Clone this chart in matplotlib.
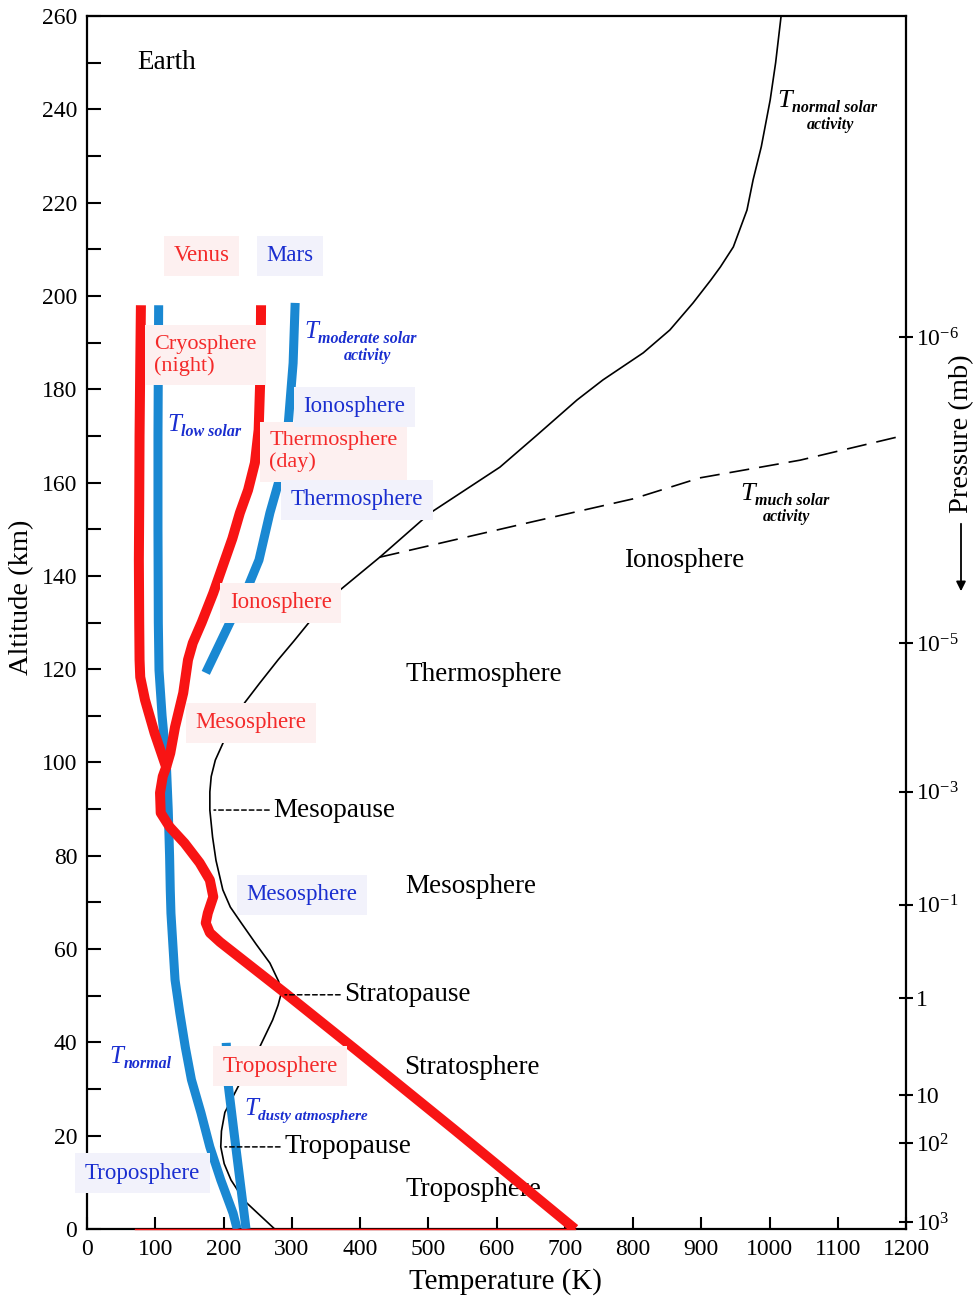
import numpy as np
import matplotlib
matplotlib.use("Agg")
import matplotlib.pyplot as plt
from matplotlib.ticker import MultipleLocator

plt.rcParams["font.family"] = ["Liberation Serif", "DejaVu Serif"]
plt.rcParams["mathtext.fontset"] = "custom"
plt.rcParams["mathtext.rm"] = "Liberation Serif"
plt.rcParams["mathtext.it"] = "Liberation Serif:italic"

# ---- Earth: temperature profile (normal solar activity) ----
earth_alt = [0, 3.4, 6, 10.5, 14, 17.6, 21, 25, 30.4, 35, 39, 44.8, 48, 50.2, 53,
             57, 61, 65.6, 69, 72.7, 79, 84, 89.8, 93.7, 97, 100.5, 104.4, 108.5,
             112.8, 117, 122, 126, 130.5, 137, 144, 153.5, 163.3, 170, 177.7,
             182, 187.8, 192.7, 198.5, 203.4, 206.2, 210.5, 218.4, 224.9, 232,
             242, 250, 260]
earth_T = [275, 250, 231, 211, 201, 196, 197, 202, 221, 238, 253, 272, 280, 284, 281,
           268, 248, 226, 210, 199, 189, 184, 180, 180, 182, 188, 200, 215,
           231, 253, 280, 303, 328, 371, 429, 503, 605, 658, 718,
           756, 815, 854, 888, 914, 928, 947, 967, 976, 988,
           1001, 1009, 1017]

# Earth: high solar activity branch
much_alt = [144, 151.5, 156.5, 161, 164.8, 170.2]
much_T = [429, 650, 800, 898, 1045, 1200]

# ---- Venus ----
venus_night_alt = [198, 185, 170, 155, 143.4, 130, 122, 118.3, 113.4, 106.3, 103.3,
                   99, 97, 93.5, 89.2, 86.2, 82.7, 78.5, 74.8, 71.2, 67.7, 65.6,
                   63.5, 61.5, 50.6, 38.4, 21.2, 0]
venus_night_T = [79, 78, 77, 76.5, 76, 76.5, 77, 78, 85, 99, 106,
                 116, 111, 107, 108, 121, 143, 165, 180, 185, 177, 174,
                 180, 195, 290, 394, 539, 715]
venus_day_alt = [198, 185, 171.3, 164.2, 158.4, 153.5, 148, 143.4, 136.3, 130,
                 125.6, 122, 114.9, 107.6, 102, 99]
venus_day_T = [255, 254.5, 251.5, 246, 236, 224, 213, 202, 185, 168,
               155, 148, 141, 129, 122, 116]
venus_base_alt = [0, 0]
venus_base_T = [70, 715]

# ---- Mars ----
mars_low_alt = [198, 185, 170, 150, 130, 119.8, 110, 100.5, 90, 80, 72.7, 67.7,
                60.5, 53.4, 46.3, 39, 32, 24.9, 17.6, 10.5, 3.4, 0]
mars_low_T = [105, 104.5, 104, 104, 104.5, 105.5, 110, 116, 119, 121, 122, 123,
              126, 129, 136, 144, 153, 167, 180, 196, 214, 220]
mars_mod_alt = [198.5, 185.6, 172.8, 161.2, 153.5, 143.4, 137, 130.5, 125, 119.2]
mars_mod_T = [305, 302, 295, 283, 268, 252, 234, 211, 193, 174]
mars_dusty_alt = [39.9, 32, 17.6, 0]
mars_dusty_T = [204, 206, 218, 233]

# ---- axes ticks ----
x_ticks = [0, 100, 200, 300, 400, 500, 600, 700, 800, 900, 1000, 1100, 1200]
y_ticks = [0, 20, 40, 60, 80, 100, 120, 140, 160, 180, 200, 220, 240, 260]
p_alt = [191.2, 125.6, 93.7, 69.5, 49.5, 28.7, 18.4, 1.5]
p_labels = [r"$10^{-6}$", r"$10^{-5}$", r"$10^{-3}$", r"$10^{-1}$", "1", "10",
            r"$10^{2}$", r"$10^{3}$"]

RED = "#f81414"
RED_TXT = "#f42a2a"
BLUE = "#1a88d2"
BLUE_TXT = "#1a2ed0"
RED_BG = "#fdf0f0"
BLUE_BG = "#f2f2fb"

W, H = 978, 1300
fig = plt.figure(figsize=(W / 100, H / 100), dpi=100)
ax = fig.add_axes([87 / W, 1 - 1229 / H, (906 - 87) / W, (1229 - 16) / H])
ax.set_xlim(0, 1200)
ax.set_ylim(0, 260)

# Earth curves
ax.plot(earth_T, earth_alt, color="black", lw=1.2, zorder=2,
        solid_joinstyle="round")
ax.plot(much_T, much_alt, color="black", lw=1.2, ls=(0, (12, 6)), zorder=2)

lkw = dict(solid_capstyle="butt", solid_joinstyle="round")

# Mars
ax.plot(mars_low_T, mars_low_alt, color=BLUE, lw=6.5, zorder=3, **lkw)
ax.plot(mars_mod_T, mars_mod_alt, color=BLUE, lw=6.5, zorder=3, **lkw)
ax.plot(mars_dusty_T, mars_dusty_alt, color=BLUE, lw=6.5, zorder=3, **lkw)

# Venus
ax.plot(venus_night_T, venus_night_alt, color=RED, lw=7.2, zorder=4, **lkw)
ax.plot(venus_day_T, venus_day_alt, color=RED, lw=7.2, zorder=4, **lkw)
ax.plot(venus_base_T, venus_base_alt, color=RED, lw=1.0, zorder=6, clip_on=False)

# Spines and ticks
for s in ax.spines.values():
    s.set_linewidth(1.6)
ax.set_xticks(x_ticks)
ax.set_yticks(y_ticks)
ax.yaxis.set_minor_locator(MultipleLocator(10))
ax.tick_params(axis="both", which="both", direction="in", width=1.5, labelsize=17)
ax.tick_params(axis="y", which="both", length=10, pad=7)
ax.tick_params(axis="x", which="both", length=9, pad=7)

ax2 = ax.twinx()
ax2.set_ylim(0, 260)
ax2.set_yticks(p_alt)
ax2.set_yticklabels(p_labels)
ax2.tick_params(axis="y", direction="inout", length=10, width=1.5, labelsize=17, pad=2)
for s in ax2.spines.values():
    s.set_visible(False)

# Axis titles
fig.text(505 / W, 1 - 1282 / H, "Temperature (K)", ha="center", va="center", fontsize=20.8)
fig.text(22 / W, 1 - 597 / H, "Altitude (km)", ha="center", va="center",
         rotation=90, fontsize=20.5)
fig.text(962 / W, 1 - 434 / H, "Pressure (mb)", ha="center", va="center",
         rotation=90, fontsize=20.5)
fig.add_artist(matplotlib.patches.FancyArrowPatch(
    (961 / W, 1 - 521 / H), (961 / W, 1 - 594 / H), transform=fig.transFigure,
    arrowstyle="-|>", mutation_scale=14, lw=1.3, color="black"))


def box(fc):
    return dict(boxstyle="square,pad=0.42", fc=fc, ec="none")


# Black region labels
ax.text(117, 250, "Earth", fontsize=19.5, ha="center", va="center")
for t, a, s in [(582, 118.8, "Thermosphere"), (875, 143.2, "Ionosphere"),
                (563, 73.5, "Mesosphere"), (564, 34.7, "Stratosphere")]:
    ax.text(t, a, s, fontsize=19.5, ha="center", va="center", zorder=5)
ax.text(566, 8.4, "Troposphere", fontsize=19.5, ha="center", va="center", zorder=1)

# Pauses with dashed leaders to the Earth profile
ea = np.array(earth_alt)
et = np.array(earth_T)
for lo, hi, fn, name in [(85, 95, np.argmin, "Mesopause"),
                         (40, 60, np.argmax, "Stratopause"),
                         (5, 30, np.argmin, "Tropopause")]:
    m = (ea >= lo) & (ea <= hi)
    i = fn(et[m])
    pt, pa = et[m][i], ea[m][i]
    ax.annotate(name, xy=(pt, pa), xytext=(pt + 93, pa), fontsize=19.5,
                ha="left", va="center", zorder=5,
                arrowprops=dict(arrowstyle="-", ls=(0, (3, 2)), lw=1.1,
                                color="black", shrinkA=1, shrinkB=3))

# Venus labels
for t, a, s in [(168, 208.6, "Venus"), (284, 134.2, "Ionosphere"),
                (240, 108.5, "Mesosphere"), (283, 34.9, "Troposphere")]:
    ax.text(t, a, s, fontsize=16.5, color=RED_TXT, ha="center", va="center",
            zorder=5, bbox=box(RED_BG))
ax.text(98, 187.3, "Cryosphere\n(night)", fontsize=16, color=RED_TXT, ha="left",
        va="center", linespacing=1.15, zorder=5, bbox=box(RED_BG))
ax.text(267, 166.6, "Thermosphere\n(day)", fontsize=16, color=RED_TXT, ha="left",
        va="center", linespacing=1.15, zorder=5, bbox=box(RED_BG))

# Mars labels
for t, a, s in [(297, 208.6, "Mars"), (392, 176.2, "Ionosphere"),
                (396, 156.3, "Thermosphere"), (315, 71.6, "Mesosphere"),
                (81, 12, "Troposphere")]:
    ax.text(t, a, s, fontsize=16.5, color=BLUE_TXT, ha="center", va="center",
            zorder=5, bbox=box(BLUE_BG))


def t_label(t, a, sub, line2=None, color="black", tsize=19, ssize=11.5, dx2=0):
    ax.text(t, a, "T", fontsize=tsize, style="italic", color=color,
            ha="left", va="baseline", zorder=5)
    ax.annotate(sub, xy=(t, a), xytext=(tsize * 0.55, -3.5), textcoords="offset points",
                fontsize=ssize, style="italic", weight="bold", color=color,
                ha="left", va="baseline", zorder=5)
    if line2:
        ax.annotate(line2, xy=(t, a), xytext=(tsize * 0.55 + dx2, -3.5 - ssize * 1.05),
                    textcoords="offset points", fontsize=ssize, style="italic",
                    weight="bold", color=color, ha="left", va="baseline", zorder=5)


t_label(1011, 240.5, "normal solar", "activity", dx2=11)
t_label(957, 156.3, "much solar", "activity", dx2=6)
t_label(318, 191.0, "moderate solar", "activity", color=BLUE_TXT, tsize=18, ssize=11.5, dx2=19)
t_label(118, 171.0, "low solar", color=BLUE_TXT, tsize=18, ssize=11.5)
t_label(33, 35.5, "normal", color=BLUE_TXT, tsize=18, ssize=11.5)
t_label(230, 24.4, "dusty atmosphere", color=BLUE_TXT, tsize=18, ssize=11)

fig.savefig("out.png", dpi=100)
